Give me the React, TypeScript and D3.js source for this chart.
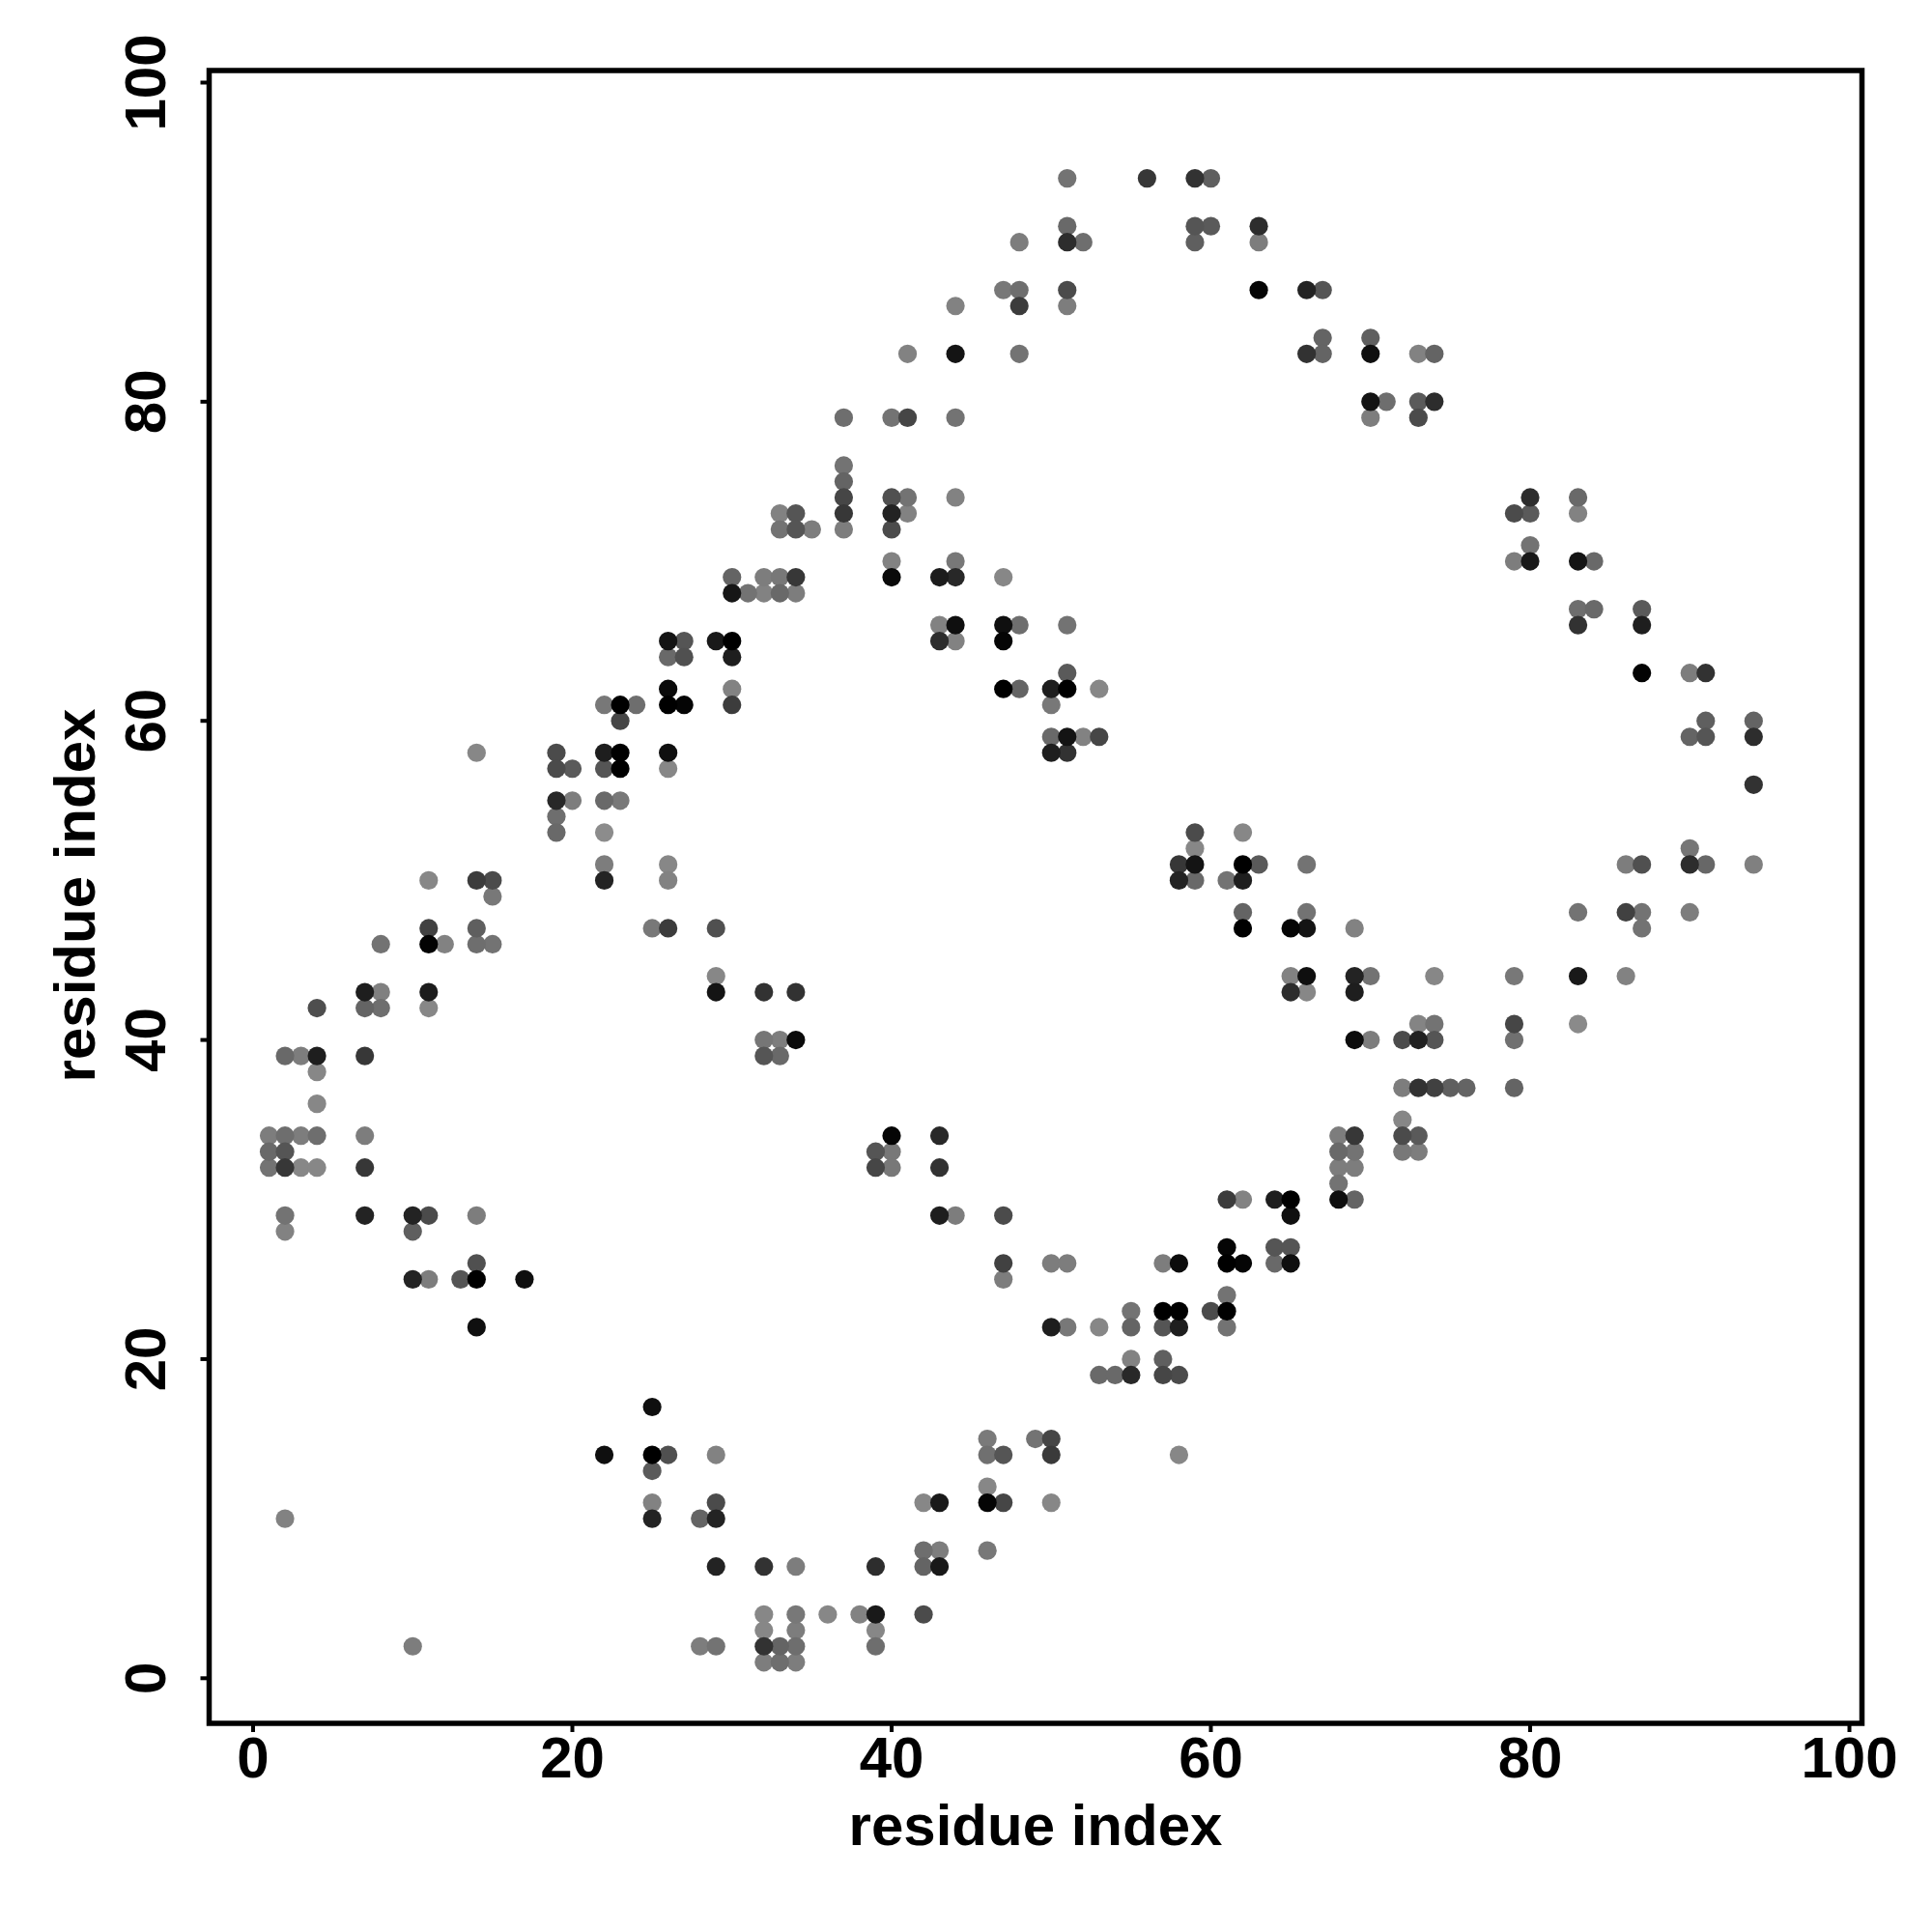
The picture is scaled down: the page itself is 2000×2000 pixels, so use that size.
import React from "react";
import * as d3 from "d3";

// [residue i, residue j, grey level 0-255]
const contactsHigh = [
  [51,94,115],[56,94,55],[59,94,50],[60,94,95],
  [51,91,105],[59,91,85],[60,91,90],[63,91,45],
  [48,90,125],[51,90,45],[52,90,110],[59,90,95],[63,90,125],
  [47,87,120],[48,87,110],[51,87,75],[63,87,5],[66,87,35],[67,87,85],
  [44,86,130],[48,86,60],[51,86,125],
  [67,84,100],[70,84,95],
  [41,83,130],[44,83,20],[48,83,115],[66,83,50],[67,83,100],[70,83,15],[73,83,130],[74,83,100],
  [70,80,20],[71,80,110],[73,80,90],[74,80,45],
  [37,79,110],[40,79,115],[41,79,70],[44,79,115],[70,79,125],[73,79,75],
  [37,76,115],[37,75,100],
  [37,74,70],[40,74,80],[41,74,115],[44,74,130],[80,74,45],[83,74,105],
  [33,73,130],[34,73,85],[37,73,55],[40,73,35],[41,73,130],[79,73,75],[80,73,90],[83,73,130],
  [33,72,115],[34,72,85],[35,72,125],[37,72,125],[40,72,75],
  [80,71,115],
  [40,70,130],[44,70,120],[79,70,125],[80,70,25],[83,70,20],[84,70,105],
];

const contactsUpperMid = [
  [30,69,100],[32,69,125],[33,69,120],[34,69,55],[40,69,10],[43,69,28],[44,69,40],[47,69,135],
  [30,68,22],[31,68,115],[32,68,130],[33,68,105],[34,68,125],
  [83,67,110],[84,67,105],[87,67,90],
  [43,66,130],[44,66,15],[47,66,15],[48,66,110],[51,66,115],[83,66,50],[87,66,30],
  [26,65,20],[27,65,85],[29,65,25],[30,65,0],[43,65,45],[44,65,130],[47,65,5],
  [26,64,105],[27,64,80],[30,64,30],
  [51,63,90],[87,63,3],[90,63,125],[91,63,50],
  [26,62,10],[30,62,130],[47,62,0],[48,62,100],[50,62,30],[51,62,0],[53,62,135],
  [22,61,120],[23,61,0],[24,61,110],[26,61,0],[27,61,5],[30,61,60],[50,61,120],
  [23,60,70],[91,60,95],[94,60,100],
  [50,59,105],[51,59,20],[52,59,130],[53,59,70],[90,59,100],[91,59,85],[94,59,45],
  [14,58,135],[19,58,75],[22,58,30],[23,58,0],[26,58,15],[50,58,30],[51,58,50],
  [19,57,75],[20,57,90],[22,57,85],[23,57,0],[26,57,135],
  [94,56,50],
  [19,55,40],[20,55,125],[22,55,105],[23,55,120],
];

const contactsMid = [
  [19,54,110],
  [19,53,105],[22,53,140],[59,53,75],[62,53,135],
  [59,52,135],[90,52,118],
  [22,51,125],[26,51,135],[58,51,55],[59,51,20],[62,51,0],[63,51,90],[66,51,115],[86,51,125],[87,51,80],[90,51,45],[91,51,103],[94,51,128],
  [11,50,135],[14,50,60],[15,50,75],[22,50,35],[26,50,130],[58,50,35],[59,50,105],[61,50,115],[62,50,30],
  [15,49,120],
  [62,48,100],[66,48,115],[83,48,115],[86,48,65],[87,48,115],[90,48,125],
  [11,47,65],[14,47,95],[25,47,120],[26,47,60],[29,47,80],[62,47,0],[65,47,5],[66,47,20],[69,47,130],[87,47,115],
  [8,46,115],[11,46,3],[12,46,130],[14,46,110],[15,46,115],
  [29,44,135],[65,44,130],[66,44,15],[69,44,35],[70,44,115],[74,44,135],[79,44,120],[83,44,25],[86,44,130],
  [7,43,30],[8,43,128],[11,43,28],[29,43,20],[32,43,50],[34,43,50],[65,43,45],[66,43,135],[69,43,30],
  [4,42,78],[7,42,100],[8,42,110],[11,42,135],
  [73,41,132],[74,41,115],[79,41,70],[83,41,138],
  [32,40,118],[33,40,125],[34,40,10],[69,40,12],[70,40,125],[72,40,75],[73,40,33],[74,40,85],[79,40,112],
];

const contactsLowerMid = [
  [2,39,105],[3,39,125],[4,39,30],[7,39,55],[32,39,85],[33,39,105],
  [4,38,135],
  [72,37,125],[73,37,50],[74,37,65],[75,37,95],[76,37,100],[79,37,100],
  [4,36,135],
  [72,35,135],
  [1,34,125],[2,34,110],[3,34,125],[4,34,110],[7,34,125],[40,34,5],[43,34,40],[68,34,125],[69,34,55],[72,34,75],[73,34,90],
  [1,33,105],[2,33,85],[39,33,85],[40,33,120],[68,33,105],[69,33,115],[72,33,120],[73,33,125],
  [1,32,115],[2,32,55],[3,32,135],[4,32,135],[7,32,55],[39,32,70],[40,32,120],[43,32,50],[68,32,125],[69,32,125],
  [68,31,115],
  [61,30,60],[62,30,130],[64,30,30],[65,30,0],[68,30,15],[69,30,100],
  [2,29,115],[7,29,35],[10,29,35],[11,29,75],[14,29,125],[43,29,30],[44,29,125],[47,29,75],[65,29,15],
  [2,28,130],[10,28,95],
  [61,27,5],[64,27,85],[65,27,85],
  [14,26,80],[47,26,65],[50,26,125],[51,26,125],[57,26,125],[58,26,12],[61,26,0],[62,26,5],[64,26,105],[65,26,15],
  [10,25,35],[11,25,125],[13,25,85],[14,25,0],[17,25,15],[47,25,125],
];

const contactsLow = [
  [61,24,115],
  [55,23,115],[57,23,0],[58,23,0],[60,23,75],[61,23,0],
  [14,22,15],[50,22,30],[51,22,120],[53,22,135],[55,22,100],[57,22,85],[58,22,30],[61,22,115],
  [55,20,130],[57,20,95],
  [53,19,105],[54,19,105],[55,19,40],[57,19,70],[58,19,75],
  [25,17,15],
  [46,15,122],[49,15,115],[50,15,70],
  [22,14,15],[25,14,0],[26,14,80],[29,14,130],[46,14,112],[47,14,85],[50,14,58],[58,14,135],
  [25,13,90],
  [46,12,135],
  [25,11,130],[29,11,75],[42,11,135],[43,11,25],[46,11,5],[47,11,70],[50,11,135],
  [2,10,130],[25,10,35],[28,10,100],[29,10,35],
  [42,8,110],[43,8,125],[46,8,120],
  [29,7,35],[32,7,50],[34,7,125],[39,7,45],[42,7,100],[43,7,25],
  [32,4,135],[34,4,120],[36,4,135],[38,4,130],[39,4,25],[42,4,75],
  [32,3,135],[34,3,125],[39,3,135],
  [10,2,125],[28,2,125],[29,2,115],[32,2,50],[33,2,100],[34,2,110],[39,2,110],
  [32,1,125],[33,1,110],[34,1,125],
];

const xTicks = [0, 20, 40, 60, 80, 100];
const yTicks = [0, 20, 40, 60, 80, 100];
const xLabel = "residue index";
const yLabel = "residue index";

const FONT = "'Liberation Sans', Arial, sans-serif";

export default function App() {
  const x = d3.scaleLinear().domain([0, 100]).range([262, 1914.5]);
  const y = d3.scaleLinear().domain([0, 100]).range([1737.3, 85.5]);
  const points = [
    ...contactsHigh,
    ...contactsUpperMid,
    ...contactsMid,
    ...contactsLowerMid,
    ...contactsLow,
  ].sort((a, b) => b[2] - a[2]);
  const frame = { left: 216.5, right: 1927.5, top: 73, bottom: 1784 };
  return (
    <svg
      width={2000}
      height={2000}
      viewBox="0 0 2000 2000"
      style={{ position: "absolute", left: 0, top: 0, background: "#fff" }}
    >
      {points.map(([i, j, g], k) => (
        <circle key={k} cx={x(i)} cy={y(j)} r={9.6} fill={d3.rgb(g, g, g).formatHex()} />
      ))}
      <rect
        x={frame.left}
        y={frame.top}
        width={frame.right - frame.left}
        height={frame.bottom - frame.top}
        fill="none"
        stroke="#000"
        strokeWidth={5.5}
      />
      <g fontFamily={FONT} fontWeight="bold" fontSize={60} fill="#000">
        {xTicks.map((t) => (
          <g key={t}>
            <line x1={x(t)} x2={x(t)} y1={frame.bottom} y2={frame.bottom + 9} stroke="#000" strokeWidth={4} />
            <text x={x(t)} y={1840} textAnchor="middle">{t}</text>
          </g>
        ))}
        {yTicks.map((t) => (
          <g key={t}>
            <line x1={frame.left - 9} x2={frame.left} y1={y(t)} y2={y(t)} stroke="#000" strokeWidth={4} />
            <text transform={`translate(171,${y(t)}) rotate(-90)`} textAnchor="middle">{t}</text>
          </g>
        ))}
        <text x={1072} y={1910} textAnchor="middle">{xLabel}</text>
        <text transform={`translate(98,${927}) rotate(-90)`} textAnchor="middle">{yLabel}</text>
      </g>
    </svg>
  );
}
